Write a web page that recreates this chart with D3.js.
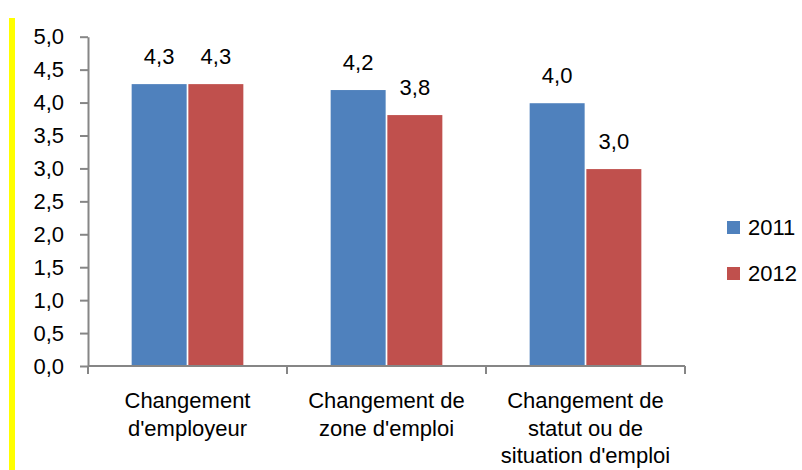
<!DOCTYPE html>
<html>
<head>
<meta charset="utf-8">
<script src="https://cdn.jsdelivr.net/npm/d3@7"></script>
<style>
  body { margin: 0; background: #fff; }
  text { font-family: "Liberation Sans", Arial, sans-serif; fill: #000; }
</style>
</head>
<body>
<div id="chart"></div>
<script>
const categories = [
  ["Changement", "d'employeur"],
  ["Changement de", "zone d'emploi"],
  ["Changement de", "statut ou de", "situation d'emploi"]
];
const series = ["2011", "2012"];
const values2011 = [4.28, 4.19, 3.99];
const values2012 = [4.28, 3.81, 2.99];
const yTicks = [0, 0.5, 1, 1.5, 2, 2.5, 3, 3.5, 4, 4.5, 5];
const colors = ["#4F81BD", "#C0504D"];

const width = 802, height = 470;
const margin = { top: 36.7, left: 88, right: 117, bottom: 104 };
const fmt = d => d3.format(".1f")(d).replace(".", ",");

const svg = d3.select("#chart")
  .append("svg")
  .attr("width", width)
  .attr("height", height);

// yellow bar on the left edge
svg.append("rect")
  .attr("x", 9).attr("y", 18)
  .attr("width", 6).attr("height", height - 18)
  .attr("fill", "#FFFF00");

const catIdx = categories.map((d, i) => i);
const x0 = d3.scaleBand()
  .domain(catIdx)
  .range([margin.left, width - margin.right]);

const x1 = d3.scaleBand()
  .domain(series)
  .range([0, x0.bandwidth()])
  .paddingInner(0.03)
  .paddingOuter(0.77);

const y = d3.scaleLinear()
  .domain([0, 5])
  .range([height - margin.bottom, margin.top]);

const data = catIdx.map(i => ({
  cat: i,
  vals: [
    { key: "2011", v: values2011[i], c: colors[0] },
    { key: "2012", v: values2012[i], c: colors[1] }
  ]
}));

// bars
const groups = svg.append("g")
  .selectAll("g")
  .data(data)
  .join("g")
  .attr("transform", d => `translate(${x0(d.cat)},0)`);

groups.selectAll("rect")
  .data(d => d.vals)
  .join("rect")
  .attr("x", d => x1(d.key))
  .attr("y", d => y(d.v))
  .attr("width", x1.bandwidth())
  .attr("height", d => y(0) - y(d.v))
  .attr("fill", d => d.c);

// value labels
groups.selectAll("text")
  .data(d => d.vals)
  .join("text")
  .attr("x", d => x1(d.key) + x1.bandwidth() / 2)
  .attr("y", d => y(d.v) - 20)
  .attr("text-anchor", "middle")
  .style("font-size", "22px")
  .text(d => fmt(d.v));

// y axis
const yAxis = svg.append("g")
  .attr("transform", `translate(${margin.left},0)`)
  .call(d3.axisLeft(y).tickValues(yTicks).tickFormat(fmt).tickSize(8).tickSizeOuter(0).tickPadding(16));
yAxis.select(".domain").attr("stroke", "#868686").attr("stroke-width", 2);
yAxis.selectAll(".tick line").attr("stroke", "#868686").attr("stroke-width", 2);
yAxis.selectAll(".tick text")
  .style("font-size", "22px")
  .attr("fill", "#000");

// x axis with ticks at category boundaries
const xAxis = svg.append("g")
  .attr("transform", `translate(0,${y(0)})`);
xAxis.append("line")
  .attr("x1", margin.left).attr("x2", width - margin.right)
  .attr("stroke", "#868686").attr("stroke-width", 2);
const bounds = catIdx.map(i => x0(i)).concat([x0(catIdx.length - 1) + x0.bandwidth()]);
xAxis.selectAll("line.tk")
  .data(bounds)
  .join("line")
  .attr("class", "tk")
  .attr("x1", d => d).attr("x2", d => d)
  .attr("y1", 0).attr("y2", 8)
  .attr("stroke", "#868686").attr("stroke-width", 2);

// category labels
const catLabels = svg.append("g")
  .selectAll("text")
  .data(catIdx)
  .join("text")
  .attr("x", i => x0(i) + x0.bandwidth() / 2)
  .attr("y", 408)
  .attr("text-anchor", "middle")
  .style("font-size", "22px");
catLabels.selectAll("tspan")
  .data(i => categories[i])
  .join("tspan")
  .attr("x", function () { return d3.select(this.parentNode).attr("x"); })
  .attr("dy", (d, j) => j === 0 ? 0 : 27.5)
  .text(d => d);

// legend
const legend = svg.append("g")
  .selectAll("g")
  .data(series)
  .join("g")
  .attr("transform", (d, i) => `translate(727,${221 + i * 46})`);
legend.append("rect")
  .attr("width", 13).attr("height", 13)
  .attr("fill", (d, i) => colors[i]);
legend.append("text")
  .attr("x", 21).attr("y", 14)
  .style("font-size", "22px")
  .text(d => d);
</script>
</body>
</html>
